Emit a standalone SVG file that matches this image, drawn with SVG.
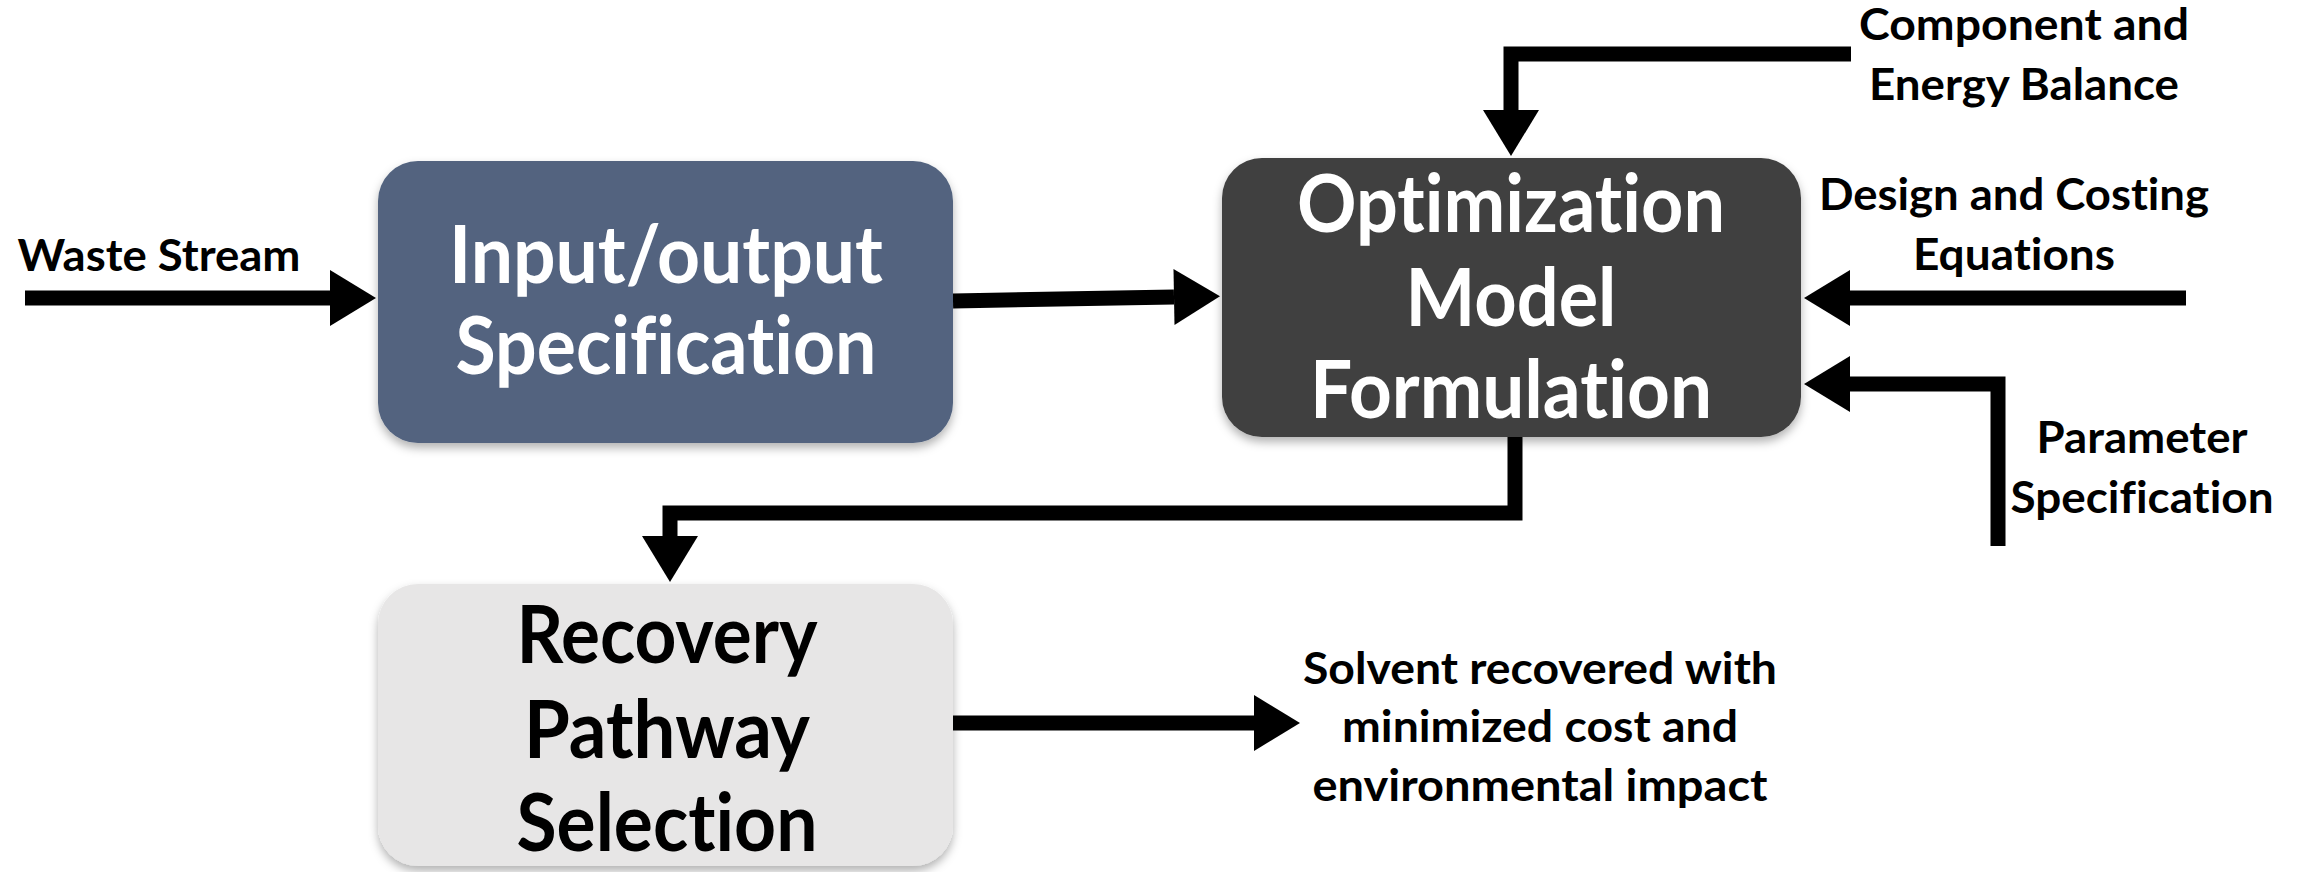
<svg xmlns="http://www.w3.org/2000/svg" width="2300" height="872" viewBox="0 0 2300 872">
<style>
.lbl{font-family:Lato,"Open Sans","Liberation Sans",sans-serif;font-weight:700;font-size:44px;fill:#000;text-anchor:middle;font-variant-ligatures:none;font-feature-settings:"liga" 0,"clig" 0,"dlig" 0}
.big{font-family:Lato,"Open Sans","Liberation Sans",sans-serif;font-weight:700;font-size:80px;text-anchor:middle;font-variant-ligatures:none;font-feature-settings:"liga" 0,"clig" 0,"dlig" 0}
.w{fill:#fff}
.k{fill:#000}
.conn{fill:none;stroke:#000;stroke-width:15;stroke-linejoin:miter}
</style>
<defs>
<marker id="ah" markerUnits="userSpaceOnUse" markerWidth="46" markerHeight="56" refX="0" refY="28" orient="auto" overflow="visible">
<path d="M0,0 L46,28 L0,56 z" fill="#000"/>
</marker>
<filter id="sh" x="-10%" y="-10%" width="120%" height="125%">
<feDropShadow dx="0" dy="5" stdDeviation="5" flood-color="#000" flood-opacity="0.3"/>
</filter>
</defs>
<rect width="2300" height="872" fill="#fff"/>
<g id="connectors">
<path class="conn" d="M25,298 H330" marker-end="url(#ah)"/>
<path class="conn" d="M953,301 L1174,297" marker-end="url(#ah)"/>
<path class="conn" d="M1851,54 H1511 V110" marker-end="url(#ah)"/>
<path class="conn" d="M2186,298 H1850" marker-end="url(#ah)"/>
<path class="conn" d="M1998,546 V384 H1850" marker-end="url(#ah)"/>
<path class="conn" d="M1515,437 V513 H670 V536" marker-end="url(#ah)"/>
<path class="conn" d="M953,723 H1254" marker-end="url(#ah)"/>
</g>
<g id="node-input">
<rect x="378" y="161" width="575" height="282" rx="40" fill="#52637F" filter="url(#sh)"/>
<text class="big w" x="666" y="283" textLength="434" lengthAdjust="spacingAndGlyphs">Input/output</text>
<text class="big w" x="666" y="374" textLength="421" lengthAdjust="spacingAndGlyphs">Specification</text>
</g>
<g id="node-optimization">
<rect x="1222" y="158" width="579" height="279" rx="40" fill="#404040" filter="url(#sh)"/>
<text class="big w" x="1511" y="232" textLength="428" lengthAdjust="spacingAndGlyphs">Optimization</text>
<text class="big w" x="1511" y="326" textLength="211" lengthAdjust="spacingAndGlyphs">Model</text>
<text class="big w" x="1511" y="418" textLength="402" lengthAdjust="spacingAndGlyphs">Formulation</text>
</g>
<g id="node-recovery">
<rect x="378" y="584" width="575" height="282" rx="40" fill="#E7E6E6" filter="url(#sh)"/>
<text class="big k" x="667" y="663" textLength="301" lengthAdjust="spacingAndGlyphs">Recovery</text>
<text class="big k" x="667" y="758" textLength="286" lengthAdjust="spacingAndGlyphs">Pathway</text>
<text class="big k" x="667" y="851" textLength="301" lengthAdjust="spacingAndGlyphs">Selection</text>
</g>
<g id="label-waste">
<text class="lbl" x="159" y="271" textLength="283" lengthAdjust="spacingAndGlyphs">Waste Stream</text>
</g>
<g id="label-component">
<text class="lbl" x="2024" y="40" textLength="330" lengthAdjust="spacingAndGlyphs">Component and</text>
<text class="lbl" x="2024" y="100" textLength="310" lengthAdjust="spacingAndGlyphs">Energy Balance</text>
</g>
<g id="label-design">
<text class="lbl" x="2014" y="210" textLength="390" lengthAdjust="spacingAndGlyphs">Design and Costing</text>
<text class="lbl" x="2014" y="270" textLength="202" lengthAdjust="spacingAndGlyphs">Equations</text>
</g>
<g id="label-parameter">
<text class="lbl" x="2142" y="453" textLength="211" lengthAdjust="spacingAndGlyphs">Parameter</text>
<text class="lbl" x="2142" y="513" textLength="263" lengthAdjust="spacingAndGlyphs">Specification</text>
</g>
<g id="label-output">
<text class="lbl" x="1540" y="684" textLength="474" lengthAdjust="spacingAndGlyphs">Solvent recovered with</text>
<text class="lbl" x="1540" y="742" textLength="396" lengthAdjust="spacingAndGlyphs">minimized cost and</text>
<text class="lbl" x="1540" y="801" textLength="455" lengthAdjust="spacingAndGlyphs">environmental impact</text>
</g>
</svg>
